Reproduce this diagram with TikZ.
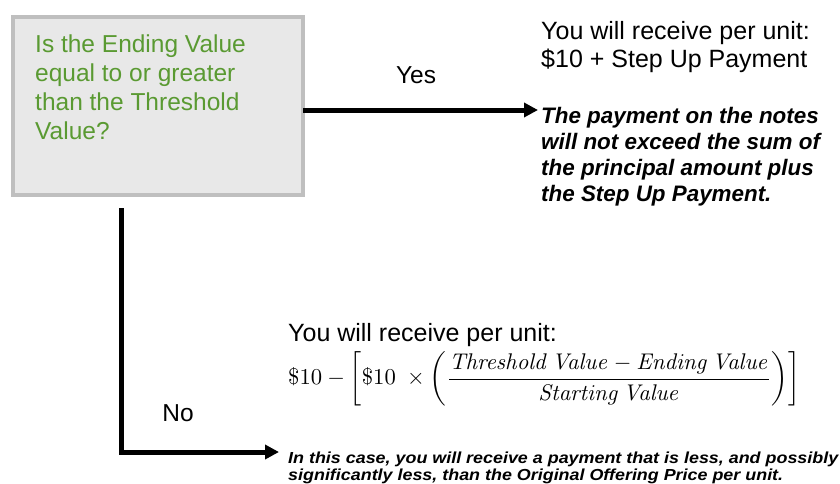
\documentclass[tikz,border=0pt]{standalone}
\usepackage[no-math]{fontspec}
\setmainfont{Liberation Sans}
\usepackage{amsmath}
\usetikzlibrary{arrows.meta}
\definecolor{qgreen}{HTML}{5A9A32}
\definecolor{boxfill}{HTML}{E8E8E8}
\definecolor{boxline}{HTML}{BFBFBF}
\tikzset{
  qbox/.style={draw=boxline, line width=4pt, fill=boxfill, minimum width=290pt, minimum height=178pt, inner sep=0pt, outer sep=0pt, anchor=north west},
  qtext/.style={text=qgreen, font=\fontsize{24.5}{29}\selectfont, align=left, inner sep=0pt, anchor=north west},
  bigtext/.style={font=\fontsize{25}{28}\selectfont, align=left, inner sep=0pt, anchor=north west},
  boldnote/.style={font=\fontsize{22.4}{26}\selectfont\bfseries\itshape, align=left, inner sep=0pt, anchor=north west},
  smallnote/.style={font=\fontsize{16}{18}\selectfont\bfseries\itshape, align=left, inner sep=0pt, anchor=north west},
  lbl/.style={font=\fontsize{24.5}{28}\selectfont, inner sep=0pt},
  flow/.style={line width=5pt, -{Triangle[length=14pt,width=14pt]}, line join=miter}
}
\begin{document}
\begin{tikzpicture}[x=1pt,y=-1pt]
\useasboundingbox (0,0) rectangle (840,483);
\node[qbox] (box) at (13,17) {};
\node[qtext] (q) at (35,35) {Is the Ending Value\\equal to or greater\\than the Threshold\\Value?};
\node[bigtext] (yesres) at (541,21) {You will receive per unit:\\\$10 + Step Up Payment};
\node[boldnote] (yesnote) at (541,107) {The payment on the notes\\will not exceed the sum of\\the principal amount plus\\the Step Up Payment.};
\node[bigtext] (nores) at (288,323) {You will receive per unit:};
\node[inner sep=0pt, anchor=west] (formula) at (288,379) {\resizebox{512pt}{!}{$\displaystyle \$10 - \left[\$10\ \times \left(\frac{\mathit{Threshold}\,\mathit{Value} - \mathit{Ending}\,\mathit{Value}}{\mathit{Starting}\,\mathit{Value}}\right)\right]$}};
\node[smallnote] (nonote) at (288,451) {\resizebox{550pt}{!}{\scalebox{1.12}[1]{\begin{tabular}{@{}l@{}}In this case, you will receive a payment that is less, and possibly\\[-1pt]significantly less, than the Original Offering Price per unit.\end{tabular}}}};
\node[lbl] (yes) at (416,75) {Yes};
\node[lbl] (no) at (178,413) {No};
\coordinate (yesend) at (538,110);
\coordinate (nostart) at (121,208);
\coordinate (noend) at (279,452);
\draw[flow] (box.east |- yesend) -- (yesend);
\draw[flow] (nostart) |- (noend);
\end{tikzpicture}
\end{document}
